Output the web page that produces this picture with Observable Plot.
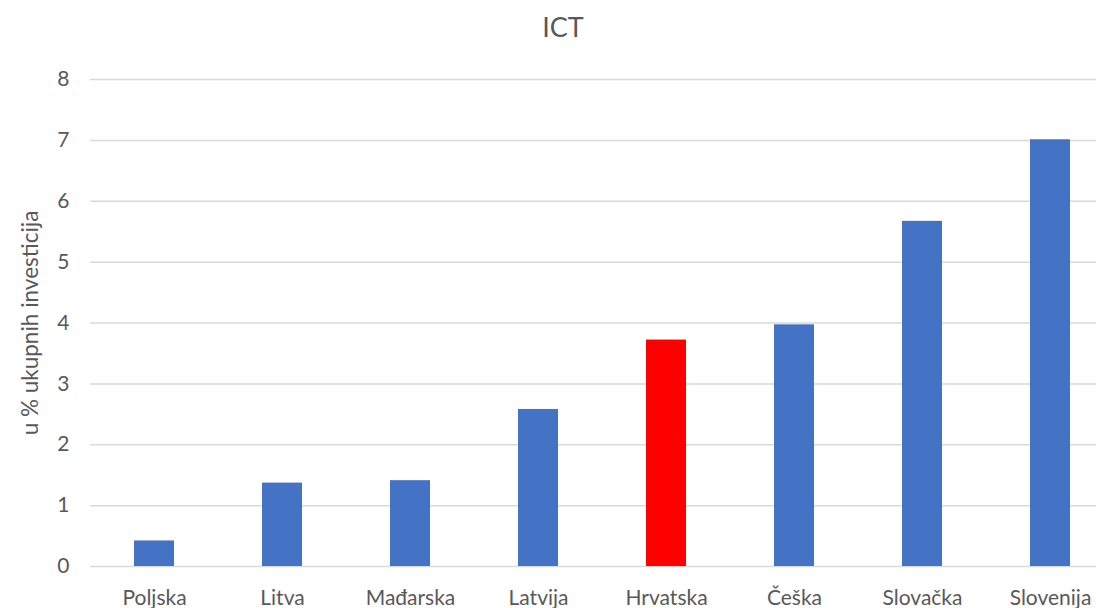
<!DOCTYPE html>
<html>
<head>
<meta charset="utf-8">
<script src="https://cdn.jsdelivr.net/npm/d3@7"></script>
<script src="https://cdn.jsdelivr.net/npm/@observablehq/plot@0.6"></script>
<style>
  html, body { margin: 0; padding: 0; background: #fff; }
  #wrap { position: relative; width: 1096px; height: 608px; overflow: hidden; font-family: Lato, "Open Sans", sans-serif; }
  #title { position: absolute; left: 563px; top: 10px; transform: translateX(-50%); font-size: 27px; color: #595959; line-height: 34px; }
  #chart { position: absolute; left: 0; top: 0; }
</style>
</head>
<body>
<div id="wrap">
  <div id="chart"></div>
  <div id="title">ICT</div>
</div>
<script>
const countries = ["Poljska", "Litva", "Mađarska", "Latvija", "Hrvatska", "Češka", "Slovačka", "Slovenija"];
const values = [0.42, 1.37, 1.41, 2.58, 3.72, 3.97, 5.67, 7.01];
const highlight = "Hrvatska";
const yTicks = [0, 1, 2, 3, 4, 5, 6, 7, 8];
const yLabel = "u % ukupnih investicija";

const data = countries.map((c, i) => ({country: c, value: values[i]}));

const chart = Plot.plot({
  width: 1096,
  height: 608,
  marginTop: 79,
  marginBottom: 42,
  marginLeft: 90,
  marginRight: 0,
  style: {fontFamily: "Lato, 'Open Sans', sans-serif", fontSize: "21px", color: "#595959", background: "#fff"},
  x: {domain: countries, range: [90, 1114], paddingInner: 0.6875, paddingOuter: 0.34375},
  y: {domain: [0, 8]},
  marks: [
    Plot.ruleY(yTicks, {stroke: "#d9d9d9", strokeWidth: 1.5}),
    Plot.barY(data, {x: "country", y: "value", fill: d => d.country === highlight ? "#FF0000" : "#4472C4"}),
    Plot.axisY(yTicks, {tickSize: 0, tickPadding: 21, fontSize: 21, fill: "#595959", tickFormat: d => String(d), label: null}),
    Plot.axisX({tickSize: 0, tickPadding: 24, fontSize: 21, fill: "#595959", label: null}),
    Plot.text([yLabel], {frameAnchor: "left", dx: -60, rotate: -90, textAnchor: "middle", fontSize: 22.5, fill: "#595959", text: d => d})
  ]
});
document.getElementById("chart").appendChild(chart);
</script>
</body>
</html>
